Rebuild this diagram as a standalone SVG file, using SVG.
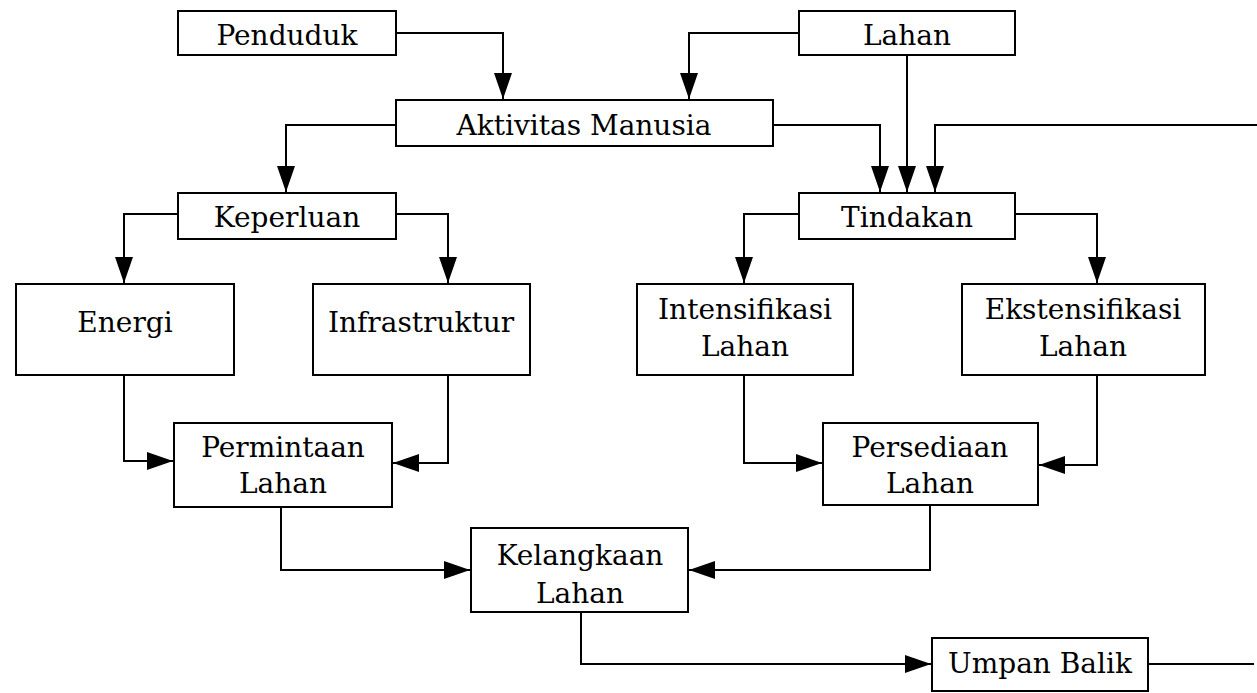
<svg xmlns="http://www.w3.org/2000/svg" width="1257" height="693" viewBox="0 0 1257 693">
<style>
rect{fill:#fff;stroke:#000;stroke-width:2}
text{font-family:"DejaVu Serif","Liberation Serif",serif;font-size:28px;fill:#000;text-anchor:middle}
.c path{fill:none;stroke:#000;stroke-width:2}
</style>
<defs>
<marker id="ah" markerUnits="userSpaceOnUse" markerWidth="28" markerHeight="20" refX="26" refY="9" orient="auto">
<path d="M0,0 L26,9 L0,18 Z" fill="#000"/>
</marker>
</defs>
<rect width="1257" height="693" style="stroke:none"/>
<g class="c">
<path d="M396,33 H503 V99" marker-end="url(#ah)"/>
<path d="M799,33 H689 V99" marker-end="url(#ah)"/>
<path d="M396,125 H286 V192" marker-end="url(#ah)"/>
<path d="M773,125 H880 V192" marker-end="url(#ah)"/>
<path d="M907,55 V192" marker-end="url(#ah)"/>
<path d="M1257,125 H935 V192" marker-end="url(#ah)"/>
<path d="M178,214 H124 V283" marker-end="url(#ah)"/>
<path d="M396,214 H448 V283" marker-end="url(#ah)"/>
<path d="M799,214 H744 V283" marker-end="url(#ah)"/>
<path d="M1015,214 H1097 V283" marker-end="url(#ah)"/>
<path d="M124,375 V461 H173" marker-end="url(#ah)"/>
<path d="M448,375 V463 H393" marker-end="url(#ah)"/>
<path d="M744,375 V463 H822" marker-end="url(#ah)"/>
<path d="M1097,375 V465 H1039" marker-end="url(#ah)"/>
<path d="M281,507 V570 H470" marker-end="url(#ah)"/>
<path d="M930,505 V570 H689" marker-end="url(#ah)"/>
<path d="M581,612 V664 H931" marker-end="url(#ah)"/>
<path d="M1148,664 H1254"/>
</g>
<g id="penduduk"><rect x="178" y="11" width="218" height="44"/><text x="287" y="45">Penduduk</text></g>
<g id="lahan"><rect x="799" y="11" width="216" height="44"/><text x="907" y="45">Lahan</text></g>
<g id="aktivitas"><rect x="396" y="100" width="377" height="46"/><text x="584" y="135">Aktivitas Manusia</text></g>
<g id="keperluan"><rect x="178" y="193" width="218" height="46"/><text x="287" y="227">Keperluan</text></g>
<g id="tindakan"><rect x="799" y="193" width="216" height="46"/><text x="907" y="227">Tindakan</text></g>
<g id="energi"><rect x="16" y="284" width="218" height="91"/><text x="125" y="332">Energi</text></g>
<g id="infrastruktur"><rect x="313" y="284" width="217" height="91"/><text x="421" y="332">Infrastruktur</text></g>
<g id="intensifikasi"><rect x="637" y="284" width="216" height="91"/><text x="745" y="319">Intensifikasi</text><text x="745" y="356">Lahan</text></g>
<g id="ekstensifikasi"><rect x="962" y="284" width="243" height="91"/><text x="1083" y="319">Ekstensifikasi</text><text x="1083" y="356">Lahan</text></g>
<g id="permintaan"><rect x="174" y="423" width="218" height="84"/><text x="283" y="457">Permintaan</text><text x="283" y="493">Lahan</text></g>
<g id="persediaan"><rect x="823" y="423" width="215" height="82"/><text x="930" y="457">Persediaan</text><text x="930" y="493">Lahan</text></g>
<g id="kelangkaan"><rect x="471" y="528" width="217" height="84"/><text x="580" y="565">Kelangkaan</text><text x="580" y="603">Lahan</text></g>
<g id="umpanbalik"><rect x="932" y="638" width="216" height="53"/><text x="1040" y="673">Umpan Balik</text></g>
</svg>
